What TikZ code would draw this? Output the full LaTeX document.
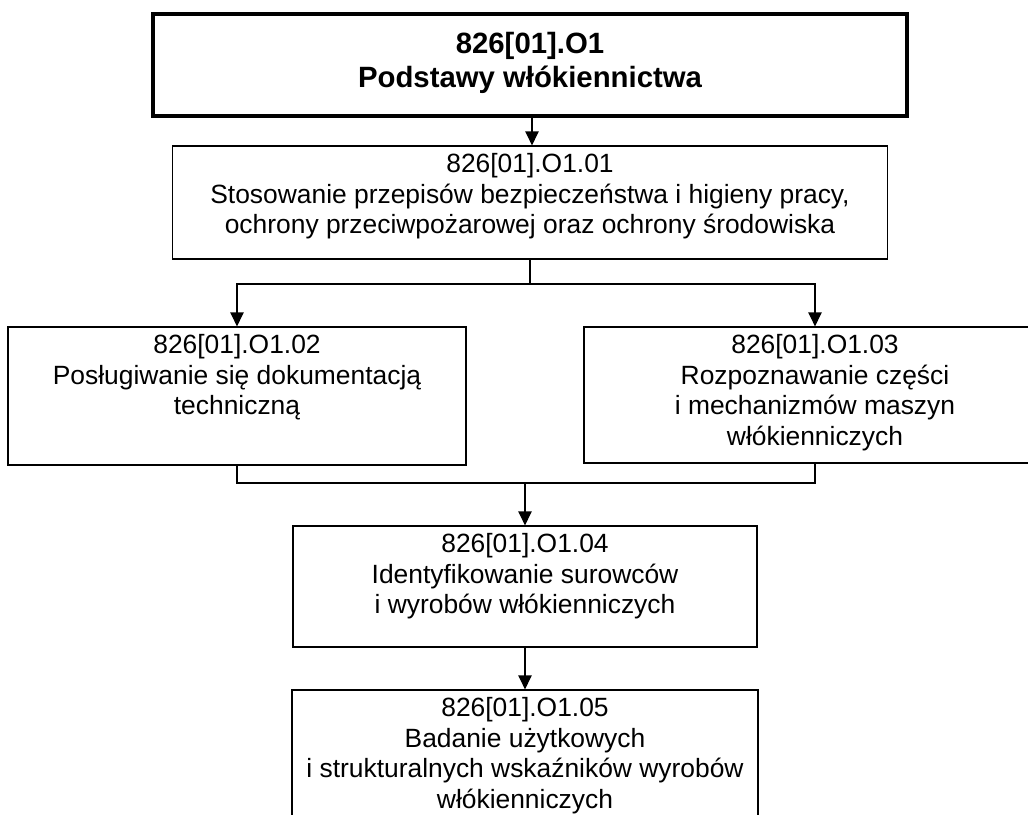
\documentclass[tikz,border=0pt]{standalone}
\usepackage{fontspec}
\setmainfont{Liberation Sans}
\usetikzlibrary{positioning,arrows.meta}

\begin{document}
\begin{tikzpicture}[x=0.75pt,y=-0.75pt,
  box/.style={draw,line width=0.9pt,inner sep=0pt},
  topbox/.style={box,line width=3pt},
  txt/.style={align=center,inner sep=0pt,font=\fontsize{19.8}{22.8}\selectfont},
  toptxt/.style={txt,font=\fontsize{22}{25.5}\selectfont\bfseries},
  arr/.style={-{Triangle[length=10.5pt,width=10pt]},line width=0.9pt},
  link/.style={line width=0.9pt}]
  \useasboundingbox (0,0) rectangle (1028,814);
  \clip (0,0) rectangle (1028,814);
  % boxes (sizes in pt, 1px = 0.75pt)
  \node[topbox,minimum width=565.5pt,minimum height=76.5pt] (modul) at (530,65) {};
  \node[box,minimum width=536.25pt,minimum height=84.75pt] (bhp) at (530,202.5) {};
  \node[box,minimum width=343.5pt,minimum height=103.5pt] (dok) at (237,396) {};
  \node[box,minimum width=346.5pt,minimum height=102pt] (masz) at (815,395) {};
  \node[box,minimum width=348pt,minimum height=90.75pt] (surow) at (525,586.5) {};
  \node[box,minimum width=349.5pt,minimum height=105pt] (bad) at (525,760) {};
  % texts
  \node[toptxt,below=15pt of modul.north] (modulT) {826[01].O1\\Podstawy włókiennictwa};
  \node[txt,below=6pt of bhp.north] (bhpT) {826[01].O1.01\\Stosowanie przepisów bezpieczeństwa i higieny pracy,\\ochrony przeciwpożarowej oraz ochrony środowiska};
  \node[txt,below=6pt of dok.north] (dokT) {826[01].O1.02\\Posługiwanie się dokumentacją\\techniczną};
  \node[txt,below=6pt of masz.north] (maszT) {826[01].O1.03\\Rozpoznawanie części\\i mechanizmów maszyn\\włókienniczych};
  \node[txt,below=6pt of surow.north] (surowT) {826[01].O1.04\\Identyfikowanie surowców\\i wyrobów włókienniczych};
  \node[txt,below=6pt of bad.north] (badT) {826[01].O1.05\\Badanie użytkowych\\i strukturalnych wskaźników wyrobów\\włókienniczych};
  % connectors
  \coordinate (fork) at (530,284);
  \coordinate (join) at (525,483);
  \draw[arr] ([xshift=1.5pt]modul.south) -- ([xshift=1.5pt]bhp.north);
  \draw[link] (bhp.south) -- (fork);
  \draw[arr] (fork) -| (dok.north);
  \draw[arr] (fork) -| (masz.north);
  \draw[link] (dok.south) |- (join);
  \draw[link] (masz.south) |- (join);
  \draw[arr] (join) -- (surow.north);
  \draw[arr] (surow.south) -- (bad.north);
\end{tikzpicture}
\end{document}
